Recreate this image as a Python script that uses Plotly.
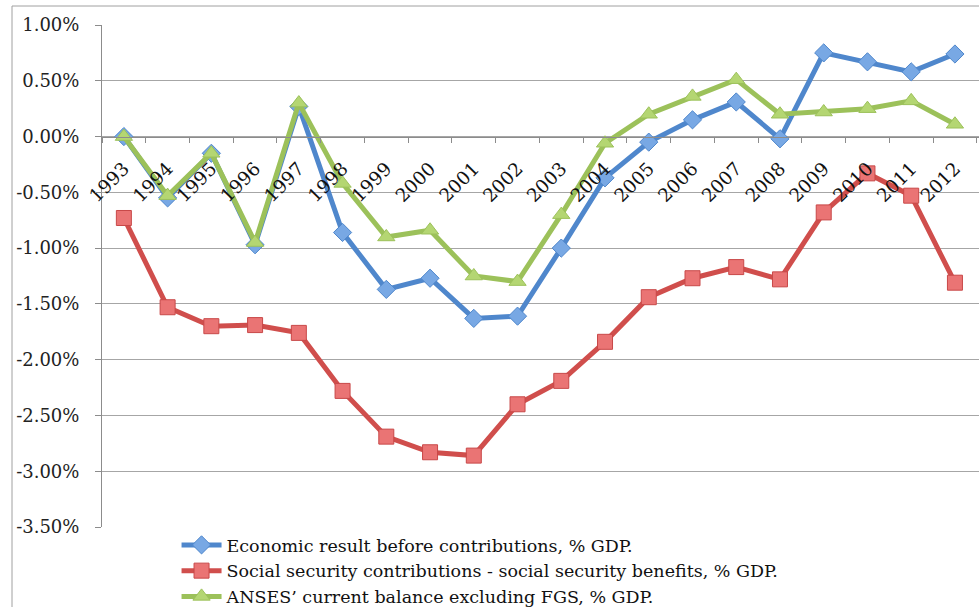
import plotly.graph_objects as go

years = [str(y) for y in range(1993, 2013)]
economic = [0.00, -0.55, -0.15, -0.97, 0.27, -0.86, -1.37, -1.27, -1.63, -1.61,
            -1.00, -0.37, -0.05, 0.15, 0.31, -0.02, 0.75, 0.67, 0.58, 0.74]
social = [-0.73, -1.53, -1.70, -1.69, -1.76, -2.28, -2.69, -2.83, -2.86, -2.40,
          -2.19, -1.84, -1.44, -1.27, -1.17, -1.28, -0.68, -0.33, -0.53, -1.31]
anses = [0.00, -0.53, -0.15, -0.95, 0.30, -0.42, -0.90, -0.84, -1.25, -1.30,
         -0.70, -0.06, 0.20, 0.36, 0.51, 0.20, 0.22, 0.25, 0.32, 0.11]
y_ticks = [1.0, 0.5, 0.0, -0.5, -1.0, -1.5, -2.0, -2.5, -3.0, -3.5]
y_tick_text = ["1.00%", "0.50%", "0.00%", "-0.50%", "-1.00%", "-1.50%",
               "-2.00%", "-2.50%", "-3.00%", "-3.50%"]
names = ["Economic result before contributions, % GDP.",
         "Social security contributions - social security benefits, % GDP.",
         "ANSES\u2019 current balance excluding FGS, % GDP."]

font = "DejaVu Serif, Liberation Serif, serif"

fig = go.Figure()
fig.add_trace(go.Scatter(x=years, y=[v / 100 for v in economic], name=names[0],
                         mode="lines+markers",
                         line=dict(color="#4f87cc", width=5),
                         marker=dict(symbol="diamond", size=14, color="#78a8e4",
                                     line=dict(color="#4f87cc", width=1))))
fig.add_trace(go.Scatter(x=years, y=[v / 100 for v in social], name=names[1],
                         mode="lines+markers",
                         line=dict(color="#d04e4c", width=5),
                         marker=dict(symbol="square", size=15, color="#ea7474",
                                     line=dict(color="#c84848", width=1))))
fig.add_trace(go.Scatter(x=years, y=[v / 100 for v in anses], name=names[2],
                         mode="lines+markers",
                         line=dict(color="#9cc15a", width=5),
                         marker=dict(symbol="triangle-up", size=15, color="#b4d672",
                                     line=dict(color="#9cc15a", width=1))))

fig.update_layout(
    width=979, height=607,
    margin=dict(l=102, r=0, t=25, b=80, autoexpand=False),
    paper_bgcolor="white", plot_bgcolor="white",
    font=dict(family=font, size=18, color="#222222"),
    showlegend=True,
    legend=dict(orientation="v", x=0.085, xanchor="left", y=0.0, yanchor="top",
                font=dict(family=font, size=17.5, color="#111111"),
                tracegroupgap=0, itemwidth=40, bgcolor="rgba(0,0,0,0)"),
    xaxis=dict(type="category", range=[-0.5, 19.55], anchor="free",
               position=3.5 / 4.5, showline=True, linecolor="#8c8c8c", linewidth=1,
               ticks="outside", ticklen=5, tickcolor="#8c8c8c", tickson="boundaries",
               tickangle=-45, showgrid=False, ticklabelstandoff=13,
               tickfont=dict(family=font, size=18.5, color="#111111")),
    yaxis=dict(range=[-0.035, 0.010], tickvals=[v / 100 for v in y_ticks],
               ticktext=y_tick_text, showgrid=True, gridcolor="#a6a6a6", gridwidth=1,
               zeroline=False, showline=True, linecolor="#8c8c8c", linewidth=1,
               ticks="outside", ticklen=6, tickcolor="#8c8c8c", ticklabelstandoff=12,
               tickfont=dict(family=font, size=18, color="#222222")),
    shapes=[dict(type="rect", xref="paper", yref="paper",
                 x0=(12 - 102) / 877, x1=1.02, y0=-0.2, y1=(527 - 6) / 502,
                 line=dict(color="#a0a0a0", width=1), fillcolor="rgba(0,0,0,0)",
                 layer="below")],
)

fig.write_html("out.html")
